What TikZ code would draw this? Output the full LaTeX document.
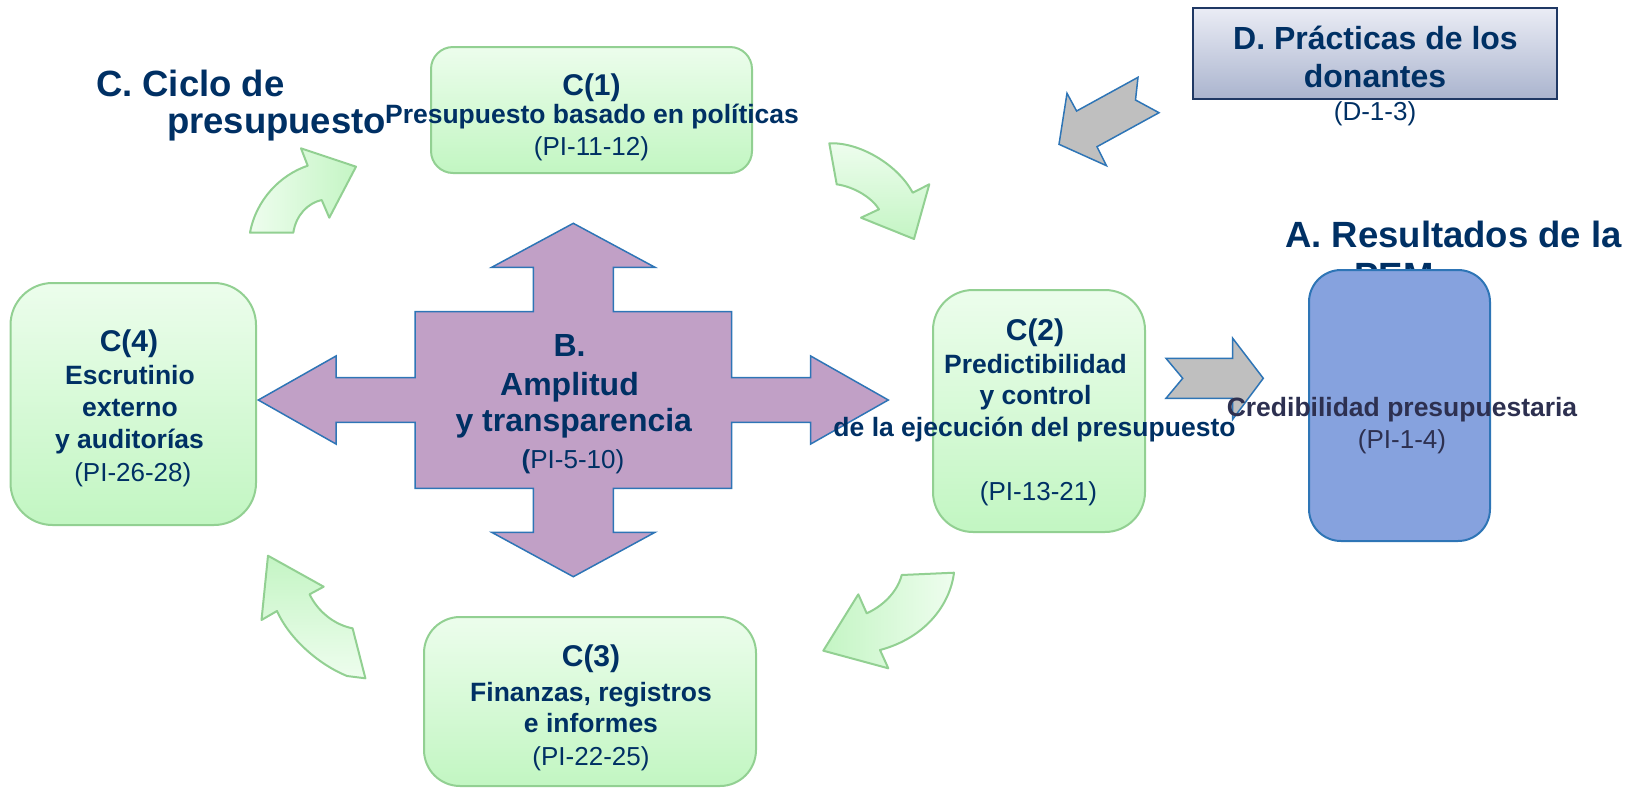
\documentclass[tikz,border=0pt]{standalone}
\usepackage{fontspec}
\setmainfont{Liberation Sans}
\definecolor{navy}{RGB}{0,48,100}
\definecolor{credc}{RGB}{45,48,80}
\definecolor{gline}{RGB}{146,208,146}
\definecolor{gtop}{RGB}{236,253,236}
\definecolor{gbot}{RGB}{194,246,194}
\definecolor{alight}{RGB}{238,253,238}
\definecolor{adark}{RGB}{196,245,196}
\definecolor{bline}{RGB}{46,117,182}
\definecolor{bluef}{RGB}{134,162,222}
\definecolor{purp}{RGB}{193,160,198}
\definecolor{arrgray}{RGB}{191,191,191}
\definecolor{dline}{RGB}{31,56,100}
\definecolor{dtop}{RGB}{234,236,245}
\definecolor{dbot}{RGB}{170,180,206}
\newcommand\zzhd{\fontsize{15}{18}\selectfont\bfseries}
\newcommand\zzbd{\fontsize{13.25}{16}\selectfont\bfseries}
\newcommand\zzpi{\fontsize{13}{16}\selectfont}
\newcommand\zzbig{\fontsize{18.25}{22}\selectfont\bfseries}
\newcommand\zzB{\fontsize{16}{19}\selectfont\bfseries}
\tikzset{
  gbox/.style={draw=gline, line width=1pt, top color=gtop, bottom color=gbot, inner sep=0pt, outer sep=0pt},
  garrow/.style={draw=gline, line width=1pt, line join=round},
  grayarrow/.style={draw=bline, line width=0.75pt, fill=arrgray},
  crossarrow/.style={draw=bline, line width=0.75pt, fill=purp},
  lbl/.style={anchor=base, inner sep=0pt, outer sep=0pt, text=navy},
  hd/.style={lbl, font=\zzhd},
  bd/.style={lbl, font=\zzbd},
  pi/.style={lbl, font=\zzpi},
  big/.style={lbl, font=\zzbig},
  bB/.style={lbl, font=\zzB},
}
\begin{document}
\begin{tikzpicture}[x=0.5pt,y=-0.5pt]
\useasboundingbox (0,0) rectangle (1640,788);

% text hidden behind the blue box
\node[big] (apem) at (1394,288) {PEM};

% boxes
\node[gbox, rounded corners=11pt, minimum width=160.5pt, minimum height=63pt] (c1box) at (591.5,110) {};
\node[gbox, rounded corners=20pt, minimum width=106pt, minimum height=121pt] (c2box) at (1039,411) {};
\node[gbox, rounded corners=18pt, minimum width=166pt, minimum height=84.5pt] (c3box) at (590,701.5) {};
\node[gbox, rounded corners=21pt, minimum width=122.75pt, minimum height=121pt] (c4box) at (133.25,404) {};
\node[draw=dline, line width=1pt, top color=dtop, bottom color=dbot, inner sep=0pt, minimum width=182pt, minimum height=45.5pt] (dbox) at (1375,53.5) {};
\node[draw=bline, line width=1pt, fill=bluef, rounded corners=16pt, inner sep=0pt, minimum width=90.5pt, minimum height=135.5pt] (abox) at (1399.5,405.5) {};

% purple cross arrow
\draw[crossarrow] (573.3,223.3) -- (655,267.3) -- (613.3,267.3) -- (613.3,311.7) -- (731.7,311.7) -- (731.7,377.7) -- (810.7,377.7) -- (810.7,356) -- (888.3,400) -- (810.7,444) -- (810.7,422.3) -- (731.7,422.3) -- (731.7,488.3) -- (613.3,488.3) -- (613.3,532.3) -- (655,532.3) -- (573.3,576.7) -- (491.7,532.3) -- (533.3,532.3) -- (533.3,488.3) -- (415,488.3) -- (415,422.3) -- (336,422.3) -- (336,444) -- (258.3,400) -- (336,356) -- (336,377.7) -- (415,377.7) -- (415,311.7) -- (533.3,311.7) -- (533.3,267.3) -- (491.7,267.3) -- cycle;

% gray arrows
\draw[grayarrow] (1138,77.3) -- (1135.5,100) -- (1159,112.7) -- (1097,146.7) -- (1106.5,165.7) -- (1059,144.3) -- (1067,93.3) -- (1076.6,111) -- cycle;
\draw[grayarrow] (1166,358.3) -- (1232.7,358.3) -- (1232.7,338.3) -- (1263.3,378.3) -- (1232.7,419.3) -- (1232.7,398.3) -- (1166,398.3) -- (1182.7,378.3) -- cycle;

% green curved arrows
\draw[garrow, left color=alight, right color=adark] (250,232.7) -- (293.3,232.7) .. controls (296,215) and (308,203) .. (321.7,200) -- (329.3,217.7) -- (356,166.7) -- (301,148.3) -- (307.7,165.7) .. controls (280,175) and (256,200) .. (250,232.7) -- cycle;
\draw[garrow, top color=alight, bottom color=adark] (829.3,143.3) .. controls (860,142) and (898,165) .. (912.7,192.7) -- (929.3,184.3) -- (914,239) -- (861,217.7) -- (879,209.3) .. controls (872,198) and (855,187) .. (836.7,184.3) -- cycle;
\draw[garrow, right color=alight, left color=adark] (901.7,575) -- (954,572.7) .. controls (950,605) and (925,638) .. (880,650) -- (888.3,668.3) -- (823.3,650.7) -- (858.3,594.3) -- (866.7,613.3) .. controls (885,605) and (898,590) .. (901.7,575) -- cycle;
\draw[garrow, bottom color=alight, top color=adark] (268,555.7) -- (323.7,586.7) -- (309.6,594.3) .. controls (318,612) and (335,625) .. (352.6,628.3) -- (365.4,678.3) -- (347,676) .. controls (320,665) and (290,640) .. (277,611) -- (261.5,620) -- cycle;

% title texts
\node[big, anchor=base west] (ctitle1) at (96,96) {C. Ciclo de};
\node[big, anchor=base west] (ctitle2) at (167,133) {presupuesto};
\node[big] (atitle) at (1453.5,247) {A. Resultados de la};

% D
\node[bB] (d1) at (1375.5,49) {D. Prácticas de los};
\node[bB] (d2) at (1375,87) {donantes};
\node[pi] (d3) at (1375,120) {(D-1-3)};

% C(1)
\node[hd] (c1a) at (591.5,95) {C(1)};
\node[bd] (c1b) at (592,123) {Presupuesto basado en políticas};
\node[pi] (c1c) at (591.5,155) {(PI-11-12)};

% C(2)
\node[hd] (c2a) at (1035,340) {C(2)};
\node[bd] (c2b) at (1035.5,373) {Predictibilidad};
\node[bd] (c2c) at (1035.5,404) {y control};
\node[bd] (c2d) at (1034.5,436) {de la ejecución del presupuesto};
\node[pi] (c2e) at (1038.5,500) {(PI-13-21)};

% C(3)
\node[hd] (c3a) at (591,666.7) {C(3)};
\node[bd] (c3b) at (591,701) {Finanzas, registros};
\node[bd] (c3c) at (591,732.7) {e informes};
\node[pi] (c3d) at (591,765) {(PI-22-25)};

% C(4)
\node[hd] (c4a) at (129,351) {C(4)};
\node[bd] (c4b) at (130,384) {Escrutinio};
\node[bd] (c4c) at (130,416) {externo};
\node[bd] (c4d) at (129.5,448) {y auditorías};
\node[pi] (c4e) at (132.8,481.7) {(PI-26-28)};

% B
\node[bB] (b1) at (569.5,356.7) {B.};
\node[bB] (b2) at (569.5,395) {Amplitud};
\node[bB] (b3) at (573.8,431.7) {y transparencia};
\node[pi] (b4) at (573,468) {\textbf{(}PI-5-10)};

% A box text
\node[bd, text=credc] (a1) at (1402,416) {Credibilidad presupuestaria};
\node[pi, text=credc] (a2) at (1402,448) {(PI-1-4)};
\end{tikzpicture}
\end{document}
